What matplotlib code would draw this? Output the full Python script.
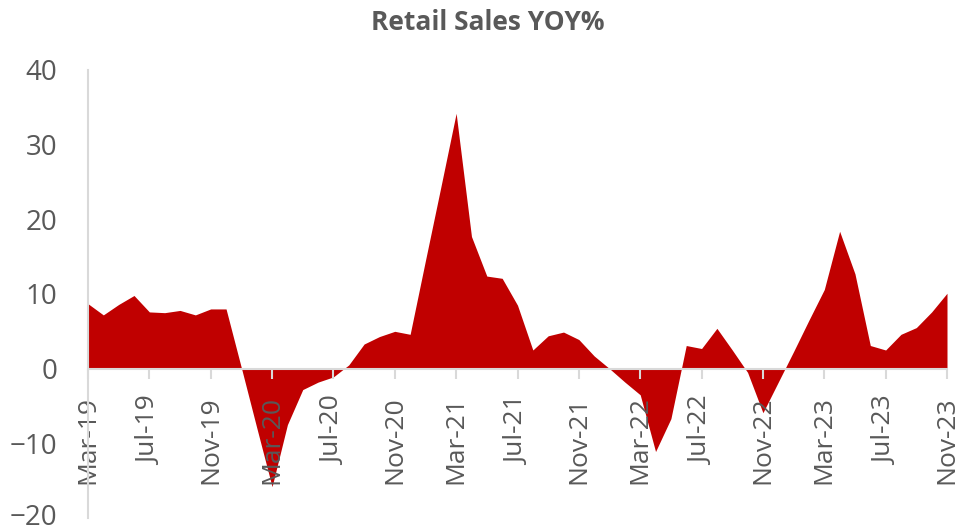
import numpy as np
import pandas as pd
import matplotlib
matplotlib.use('Agg')
import matplotlib.pyplot as plt

plt.rcParams['font.family'] = ['Open Sans', 'DejaVu Sans']

# monthly retail sales yoy %, Mar-19 .. Nov-23
months = pd.date_range('2019-03-01', periods=57, freq='MS')
labels = [m.strftime('%b-%y') for m in months]
yoy_2019 = [8.7, 7.2, 8.6, 9.8, 7.6, 7.5, 7.8, 7.2, 8.0, 8.0]
yoy_2020 = [0.1, -7.9, -15.8, -7.5, -2.8, -1.8, -1.1, 0.5, 3.3, 4.3, 5.0, 4.6]
yoy_2021 = [14.5, 24.3, 34.2, 17.7, 12.4, 12.1, 8.5, 2.5, 4.4, 4.9, 3.9, 1.7]
yoy_2022 = [0.0, -1.8, -3.5, -11.1, -6.7, 3.1, 2.7, 5.4, 2.5, -0.5, -5.9, -1.8]
yoy_2023 = [2.3, 6.5, 10.6, 18.4, 12.7, 3.1, 2.5, 4.6, 5.5, 7.6, 10.1]

vals = np.array(yoy_2019 + yoy_2020 + yoy_2021 + yoy_2022 + yoy_2023)
x = np.arange(len(vals))

grey = '#595959'
axis_grey = '#D9D9D9'

fig = plt.figure(figsize=(9.61, 5.31), dpi=100)
ax = fig.add_axes([88/961, 1 - 518/531, (947-88)/961, (518-70)/531])

ax.fill_between(x, vals, 0, color='#C00000', linewidth=0)

ax.set_xlim(0, len(vals) - 1)
ax.set_ylim(-20, 40)
ax.set_yticks(range(-20, 41, 10))

ax.spines['top'].set_visible(False)
ax.spines['right'].set_visible(False)
ax.spines['bottom'].set_position(('data', 0))
for s in ['left', 'bottom']:
    ax.spines[s].set_color(axis_grey)
    ax.spines[s].set_linewidth(1.5)

ax.set_xticks(x[::4])
ax.set_xticklabels(labels[::4], rotation=90)
ax.tick_params(axis='x', colors=axis_grey, length=7, width=1.5, pad=13,
               labelsize=19, labelcolor=grey)
ax.tick_params(axis='y', length=0, pad=22, labelsize=20, labelcolor=grey)
# keep the bottom label inside the figure
ax.get_yticklabels()[0].set_va('center')

fig.text(488/961, 1 - 22/531, 'Retail Sales YOY%', ha='center', va='center',
         fontsize=19, fontweight='bold', color=grey)

fig.savefig('out.png', dpi=100)
